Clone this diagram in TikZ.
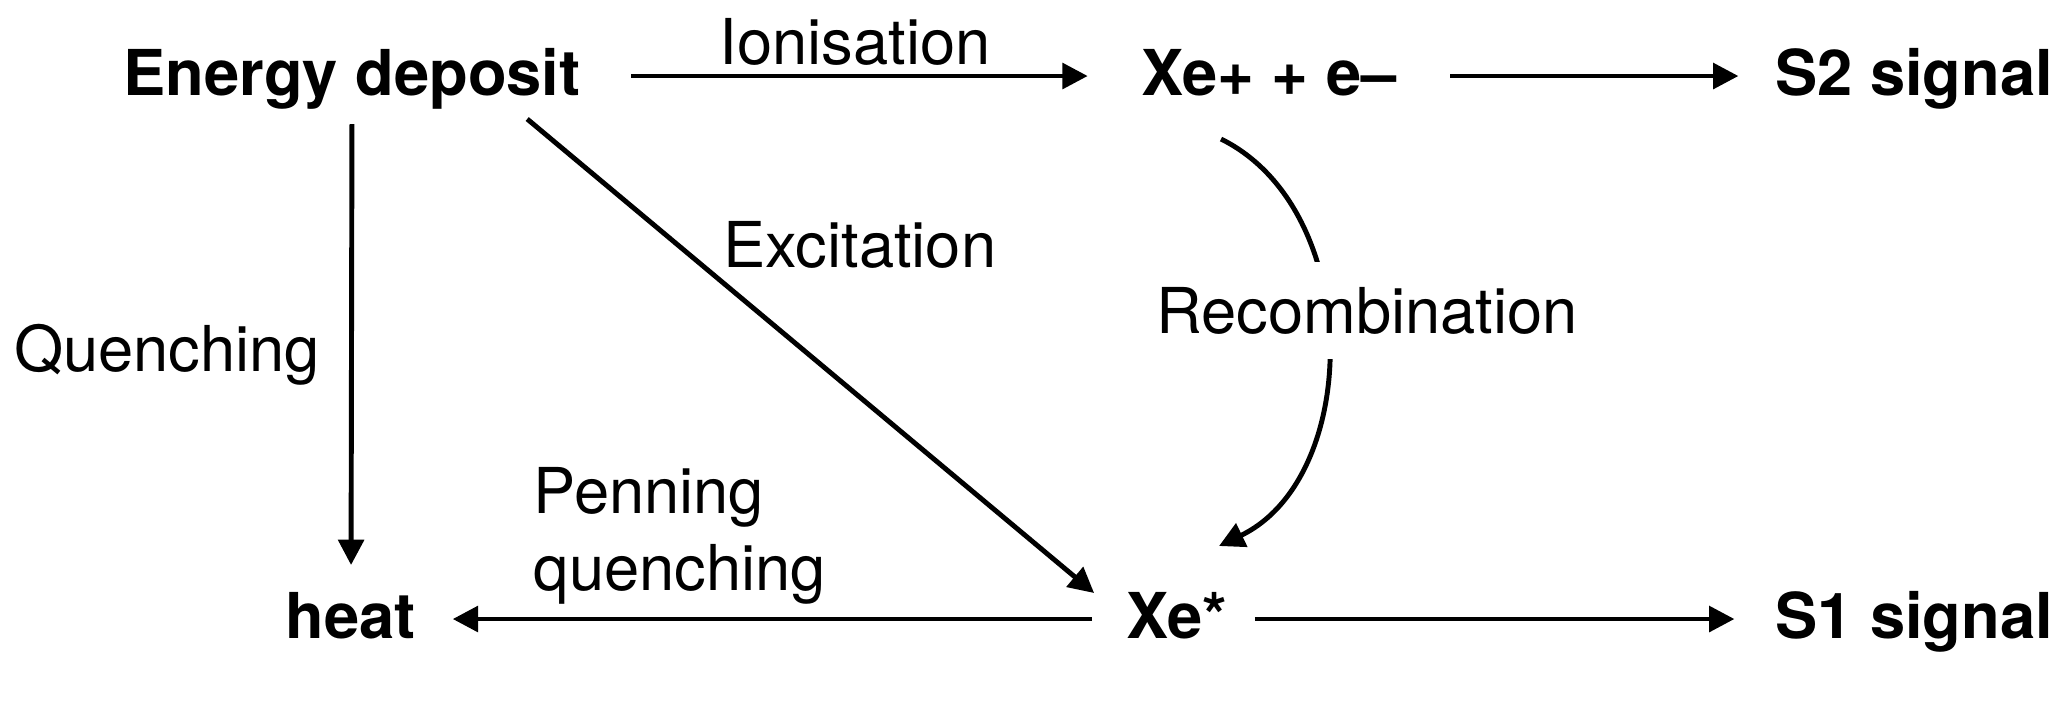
\documentclass[tikz,border=0pt]{standalone}
\usepackage{fontspec}
\setmainfont{TeX Gyre Heros}
\usetikzlibrary{arrows.meta, positioning}
\tikzset{
  % --- Trang thai / tin hieu ----------------------------------
  stage/.style={font=\fontsize{18}{21.8}\selectfont\bfseries, inner sep=0pt,
    text height=12.6pt, text depth=1.8pt, anchor=base},
  % --- Nhan qua trinh -----------------------------------------
  lbl/.style={font=\fontsize{18}{21.8}\selectfont, inner sep=0pt, anchor=base},
  arr/.style={-{Triangle[length=7.2pt, width=7.2pt]}, line width=1.4pt}
}
\begin{document}
\begin{tikzpicture}
  \useasboundingbox (0,0) rectangle (20.59,7.24);

  % --- Hang tren ----------------------------------------------
  \node[stage] (edep) at (3.52,6.29) {Energy deposit};
  \node[stage] (ionpair) at (12.69,6.29) {Xe+ + e--};
  \node[stage] (stwo) at (19.14,6.29) {S2 signal};

  % --- Hang duoi ----------------------------------------------
  \node[stage] (heat) at (3.51,0.86) {heat};
  \node[stage] (xeexc) at (11.77,0.86) {Xe*};
  \node[stage] (sone) at (19.14,0.86) {S1 signal};

  % --- Nhan ---------------------------------------------------
  \node[lbl] (lbion) at (8.55,6.59) {Ionisation};
  \node[lbl] (lbexc) at (8.60,4.57) {Excitation};
  \node[lbl] (lbque) at (1.67,3.53) {Quenching};
  \node[lbl, anchor=west, align=left] (lbpen) at (5.33,1.88) {Penning\\quenching};

  % --- Qua trinh ----------------------------------------------
  \draw[arr, shorten <=0.50cm, shorten >=0.53cm] (edep) -- (ionpair);
  \draw[arr, shorten <=0.53cm, shorten >=0.36cm] (ionpair) -- (stwo);
  \draw[arr, shorten <=0.27cm, shorten >=0.40cm] (xeexc) -- (sone);
  \draw[arr, shorten <=0.34cm, shorten >=0.36cm] (xeexc) -- (heat);
  \draw[arr, shorten <=0.22cm, shorten >=0.28cm] (edep.south) -- (heat.north);
  \draw[arr] ([shift={(-0.54,-0.17)}]edep.south east) -- ([shift={(-0.32,0)}]xeexc.north west);
  \draw[arr] ([shift={(-0.48,-0.37)}]ionpair.south) to[bend left=64] ([shift={(0.42,0.47)}]xeexc.north);
  \node[lbl, fill=white, inner xsep=2pt, inner ysep=0.25cm] (lbrec) at (13.67,3.91) {Recombination};

\end{tikzpicture}
\end{document}
